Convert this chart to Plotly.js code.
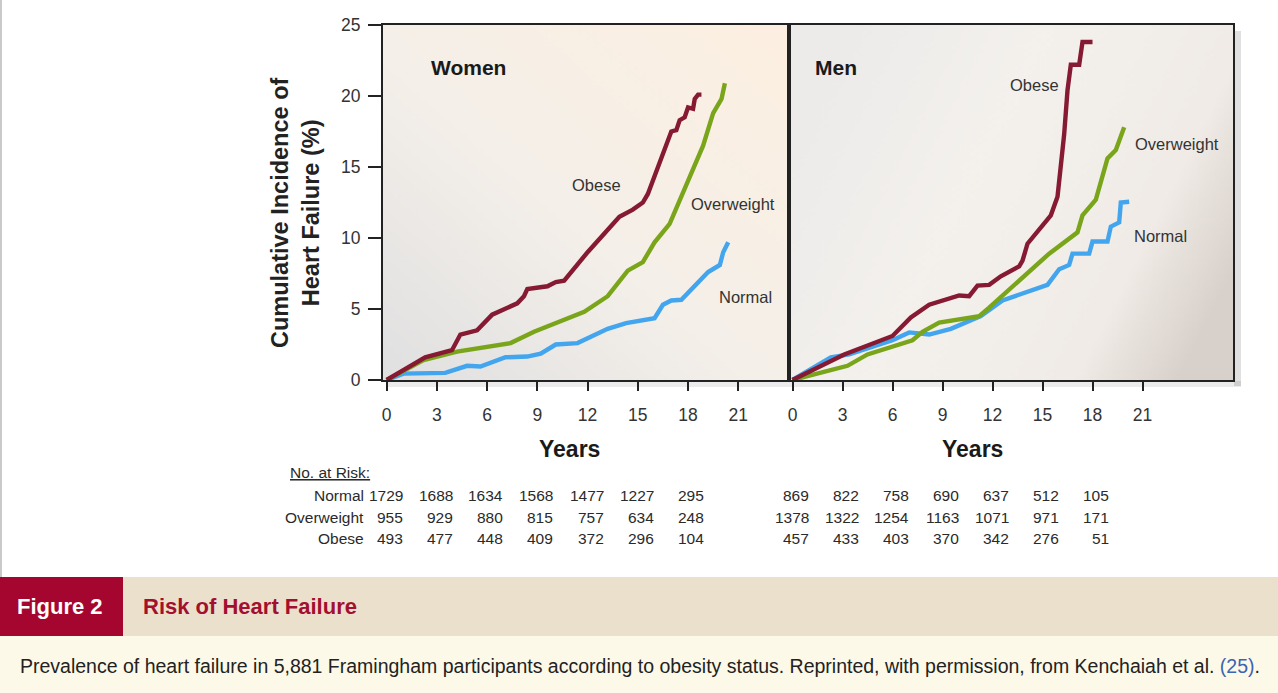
<!DOCTYPE html>
<html>
<head>
<meta charset="utf-8">
<script src="https://cdn.plot.ly/plotly-3.0.1.min.js"></script>
<style>
html,body{margin:0;padding:0;background:#fff;}
#chart{width:1278px;height:693px;}
</style>
</head>
<body>
<div id="chart"></div>
<script>
// ---------------- DATA ----------------
const groups = ["Normal", "Overweight", "Obese"];
const riskYears = [0, 3, 6, 9, 12, 15, 18];
const xTicks = [0, 3, 6, 9, 12, 15, 18, 21];
const yTicks = [0, 5, 10, 15, 20, 25];

// Women – cumulative incidence (%)
const womenNormalX = [0, 1.0, 3.5, 4.8, 5.6, 7.1, 8.4, 9.2, 10.1, 11.4, 13.2, 14.3, 16.0, 16.5, 17.0, 17.6, 19.2, 19.9, 20.1, 20.3, 20.4];
const womenNormalY = [0, 0.45, 0.5, 1.0, 0.95, 1.6, 1.65, 1.85, 2.5, 2.6, 3.6, 4.0, 4.35, 5.3, 5.6, 5.65, 7.6, 8.1, 9.0, 9.5, 9.7];
const womenOverX = [0, 2.2, 4.2, 7.4, 8.8, 11.8, 13.2, 14.4, 15.3, 16.0, 16.9, 17.9, 18.9, 19.5, 20.0, 20.2];
const womenOverY = [0, 1.4, 2.0, 2.6, 3.4, 4.8, 5.9, 7.7, 8.3, 9.7, 11.0, 13.8, 16.5, 18.8, 19.8, 20.9];
const womenObeseX = [0, 2.3, 3.9, 4.4, 5.4, 6.3, 7.8, 8.2, 8.4, 9.6, 10.1, 10.6, 12.0, 13.9, 14.7, 15.3, 15.6, 16.8, 17.0, 17.3, 17.5, 17.8, 18.0, 18.3, 18.4, 18.6, 18.8];
const womenObeseY = [0, 1.6, 2.1, 3.2, 3.5, 4.6, 5.4, 5.9, 6.4, 6.6, 6.9, 7.0, 9.0, 11.5, 12.0, 12.5, 13.1, 17.0, 17.5, 17.6, 18.3, 18.5, 19.2, 19.1, 19.8, 20.1, 20.1];

// Men – cumulative incidence (%)
const menNormalX = [0, 2.3, 3.4, 6.0, 7.0, 8.2, 9.5, 11.3, 12.6, 15.3, 16.0, 16.6, 16.8, 17.8, 18.0, 18.9, 19.1, 19.6, 19.7, 20.2];
const menNormalY = [0, 1.6, 1.8, 2.8, 3.35, 3.2, 3.6, 4.5, 5.6, 6.7, 7.8, 8.1, 8.9, 8.9, 9.75, 9.75, 10.8, 11.1, 12.5, 12.55];
const menOverX = [0, 3.3, 4.5, 7.2, 7.8, 8.8, 11.2, 11.8, 15.4, 17.1, 17.4, 18.2, 18.9, 19.4, 19.9];
const menOverY = [0, 1.0, 1.8, 2.8, 3.4, 4.05, 4.5, 5.1, 8.9, 10.4, 11.6, 12.7, 15.6, 16.2, 17.8];
const menObeseX = [0, 3.1, 6.0, 7.1, 8.2, 9.2, 10.0, 10.6, 11.1, 11.8, 12.5, 13.6, 13.8, 14.1, 14.8, 15.5, 15.9, 16.3, 16.5, 16.7, 17.2, 17.4, 18.0];
const menObeseY = [0, 1.8, 3.1, 4.4, 5.3, 5.65, 5.95, 5.9, 6.65, 6.7, 7.3, 8.0, 8.4, 9.6, 10.6, 11.6, 12.9, 17.3, 20.4, 22.2, 22.2, 23.8, 23.8];

// Number at risk
const womenRiskNormal = [1729, 1688, 1634, 1568, 1477, 1227, 295];
const womenRiskOver = [955, 929, 880, 815, 757, 634, 248];
const womenRiskObese = [493, 477, 448, 409, 372, 296, 104];
const menRiskNormal = [869, 822, 758, 690, 637, 512, 105];
const menRiskOver = [1378, 1322, 1254, 1163, 1071, 971, 171];
const menRiskObese = [457, 433, 403, 370, 342, 276, 51];

// ---------------- STYLE ----------------
const W = 1278, H = 693;
const px = v => v / W;          // pixel -> paper x
const py = v => 1 - v / H;      // pixel -> paper y
const colNormal = "#42a5ee";
const colOver = "#7aa51b";
const colObese = "#861a33";
const lineW = 4.4;
const sans = "Liberation Sans, Arial, Helvetica, sans-serif";

function gradientURL(w, h, stops, x0, y0, x1, y1) {
  const c = document.createElement("canvas");
  c.width = w; c.height = h;
  const g = c.getContext("2d");
  const lg = g.createLinearGradient(x0, y0, x1, y1);
  stops.forEach(s => lg.addColorStop(s[0], s[1]));
  g.fillStyle = lg;
  g.fillRect(0, 0, w, h);
  return c.toDataURL("image/png");
}

const xL0 = 383, xMid = 789, xR1 = 1233, yTopPx = 25, yBotPx = 380;

const womenBg = gradientURL(200, 200, [[0, "#e0e0e1"], [0.45, "#f4efe9"], [1, "#fdefe1"]], 0, 200, 200, 0);
const menBg = gradientURL(200, 200, [[0, "#ecebea"], [0.4, "#f4f1ed"], [0.8, "#f0ebe6"], [1, "#d8d0cb"]], 0, 60, 200, 140);

function line(x, y, color, xa, ya) {
  return {x: x, y: y, type: "scatter", mode: "lines", xaxis: xa, yaxis: ya,
    line: {color: color, width: lineW, shape: "linear"}, hoverinfo: "skip", showlegend: false};
}

const data = [
  line(womenNormalX, womenNormalY, colNormal, "x", "y"),
  line(womenOverX, womenOverY, colOver, "x", "y"),
  line(womenObeseX, womenObeseY, colObese, "x", "y"),
  line(menNormalX, menNormalY, colNormal, "x2", "y2"),
  line(menOverX, menOverY, colOver, "x2", "y2"),
  line(menObeseX, menObeseY, colObese, "x2", "y2")
];

const yDomain = [py(yBotPx), py(yTopPx)];
const xCommon = {
  tickvals: xTicks, ticks: "outside", ticklen: 9, tickwidth: 2, tickcolor: "#222",
  showline: true, linecolor: "#222", linewidth: 2, mirror: true,
  showgrid: false, zeroline: false, fixedrange: true,
  tickfont: {family: sans, size: 17.5, color: "#333"}, ticklabelstandoff: 9
};
const layout = {
  width: W, height: H,
  margin: {l: 0, r: 0, t: 0, b: 0, pad: 0},
  paper_bgcolor: "#ffffff",
  plot_bgcolor: "rgba(0,0,0,0)",
  showlegend: false,
  xaxis: Object.assign({}, xCommon, {domain: [px(xL0), px(xMid)], range: [-0.22, 24.03], anchor: "y"}),
  xaxis2: Object.assign({}, xCommon, {domain: [px(xMid), px(xR1)], range: [-0.21, 26.43], anchor: "y2"}),
  yaxis: {domain: yDomain, range: [0, 25], tickvals: yTicks, ticks: "outside", ticklen: 13, tickwidth: 2,
    tickcolor: "#222", showline: true, linecolor: "#222", linewidth: 2, mirror: true, showgrid: false,
    zeroline: false, fixedrange: true, tickfont: {family: sans, size: 17.5, color: "#333"}, ticklabelstandoff: 4, anchor: "x"},
  yaxis2: {domain: yDomain, range: [0, 25], showticklabels: false, ticks: "", showline: true, linecolor: "#222",
    linewidth: 2, mirror: true, showgrid: false, zeroline: false, fixedrange: true, anchor: "x2"},
  images: [
    {source: womenBg, xref: "paper", yref: "paper", x: px(xL0), y: py(yTopPx), sizex: px(xMid) - px(xL0),
      sizey: py(yTopPx) - py(yBotPx), sizing: "stretch", layer: "below", xanchor: "left", yanchor: "top"},
    {source: menBg, xref: "paper", yref: "paper", x: px(xMid), y: py(yTopPx), sizex: px(xR1) - px(xMid),
      sizey: py(yTopPx) - py(yBotPx), sizing: "stretch", layer: "below", xanchor: "left", yanchor: "top"}
  ],
  shapes: [
    // drop shadow of the right panel
    {type: "rect", xref: "paper", yref: "paper", x0: px(xR1 + 1), x1: px(xR1 + 8), y0: py(yBotPx + 6), y1: py(yTopPx + 6),
      fillcolor: "rgba(0,0,0,0.12)", line: {width: 0}, layer: "below"},
    {type: "rect", xref: "paper", yref: "paper", x0: px(xL0 + 5), x1: px(xR1 + 8), y0: py(yBotPx + 7), y1: py(yBotPx + 1),
      fillcolor: "rgba(0,0,0,0.08)", line: {width: 0}, layer: "below"},
    // left grey border
    {type: "rect", xref: "paper", yref: "paper", x0: 0, x1: px(2), y0: py(577), y1: 1,
      fillcolor: "#c9c9c9", line: {width: 0}},
    // caption bands
    {type: "rect", xref: "paper", yref: "paper", x0: 0, x1: 1, y0: py(636), y1: py(577),
      fillcolor: "#eae0cc", line: {width: 0}},
    {type: "rect", xref: "paper", yref: "paper", x0: 0, x1: px(123), y0: py(636), y1: py(577),
      fillcolor: "#a5062f", line: {width: 0}},
    {type: "rect", xref: "paper", yref: "paper", x0: 0, x1: 1, y0: 0, y1: py(636),
      fillcolor: "#fdf9e8", line: {width: 0}}
  ],
  annotations: []
};

const A = layout.annotations;
function txt(text, x, y, opts) {
  A.push(Object.assign({text: text, xref: "paper", yref: "paper", x: px(x), y: py(y), showarrow: false,
    xanchor: "center", yanchor: "middle", font: {family: sans, size: 18, color: "#222"}}, opts || {}));
}

// axis titles & panel labels
txt("<b>Cumulative Incidence of</b><br><b>Heart Failure (%)</b>", 296, 213, {textangle: -90, font: {family: sans, size: 23.5, color: "#222"}});
txt("<b>Women</b>", 468, 67, {font: {family: sans, size: 21, color: "#1a1a1a"}});
txt("<b>Men</b>", 836, 67, {font: {family: sans, size: 21, color: "#1a1a1a"}});
txt("<b>Years</b>", 569, 449, {font: {family: sans, size: 23, color: "#1a1a1a"}});
txt("<b>Years</b>", 972, 449, {font: {family: sans, size: 23, color: "#1a1a1a"}});

// curve labels
const cf = {family: sans, size: 16.5, color: "#333"};
txt("Obese", 596, 185, {font: cf});
txt("Overweight", 733, 204, {font: cf});
txt("Normal", 745, 297, {font: cf});
txt("Obese", 1034, 85, {font: cf});
txt("Overweight", 1177, 144, {font: cf});
txt("Normal", 1160, 236, {font: cf});

// number at risk table
const tf = {family: sans, size: 15.5, color: "#2a2a2a"};
txt("<u>No. at Risk:</u>", 288, 472, {xanchor: "left", font: tf});
const rowY = [495, 517, 538];
groups.forEach((g, i) => txt(g, 366, rowY[i], {xanchor: "right", font: tf}));
function riskRow(vals, xref, y) {
  vals.forEach((v, i) => A.push({text: String(v), xref: xref, yref: "paper", x: riskYears[i], y: py(y),
    xanchor: "right", yanchor: "middle", xshift: 18, showarrow: false, font: tf}));
}
riskRow(womenRiskNormal, "x", rowY[0]);
riskRow(womenRiskOver, "x", rowY[1]);
riskRow(womenRiskObese, "x", rowY[2]);
riskRow(menRiskNormal, "x2", rowY[0]);
riskRow(menRiskOver, "x2", rowY[1]);
riskRow(menRiskObese, "x2", rowY[2]);

// figure caption
txt("<b>Figure 2</b>", 60, 606, {font: {family: sans, size: 22, color: "#ffffff"}});
txt("<b>Risk of Heart Failure</b>", 141, 606, {xanchor: "left", font: {family: sans, size: 22, color: "#a3102f"}});
txt("Prevalence of heart failure in 5,881 Framingham participants according to obesity status. Reprinted, with permission, from Kenchaiah et al. <span style='color:#3a64b4'>(25)</span>.",
  18, 666, {xanchor: "left", font: {family: sans, size: 19.5, color: "#222"}});

Plotly.newPlot("chart", data, layout, {staticPlot: true, displayModeBar: false});
</script>
</body>
</html>
